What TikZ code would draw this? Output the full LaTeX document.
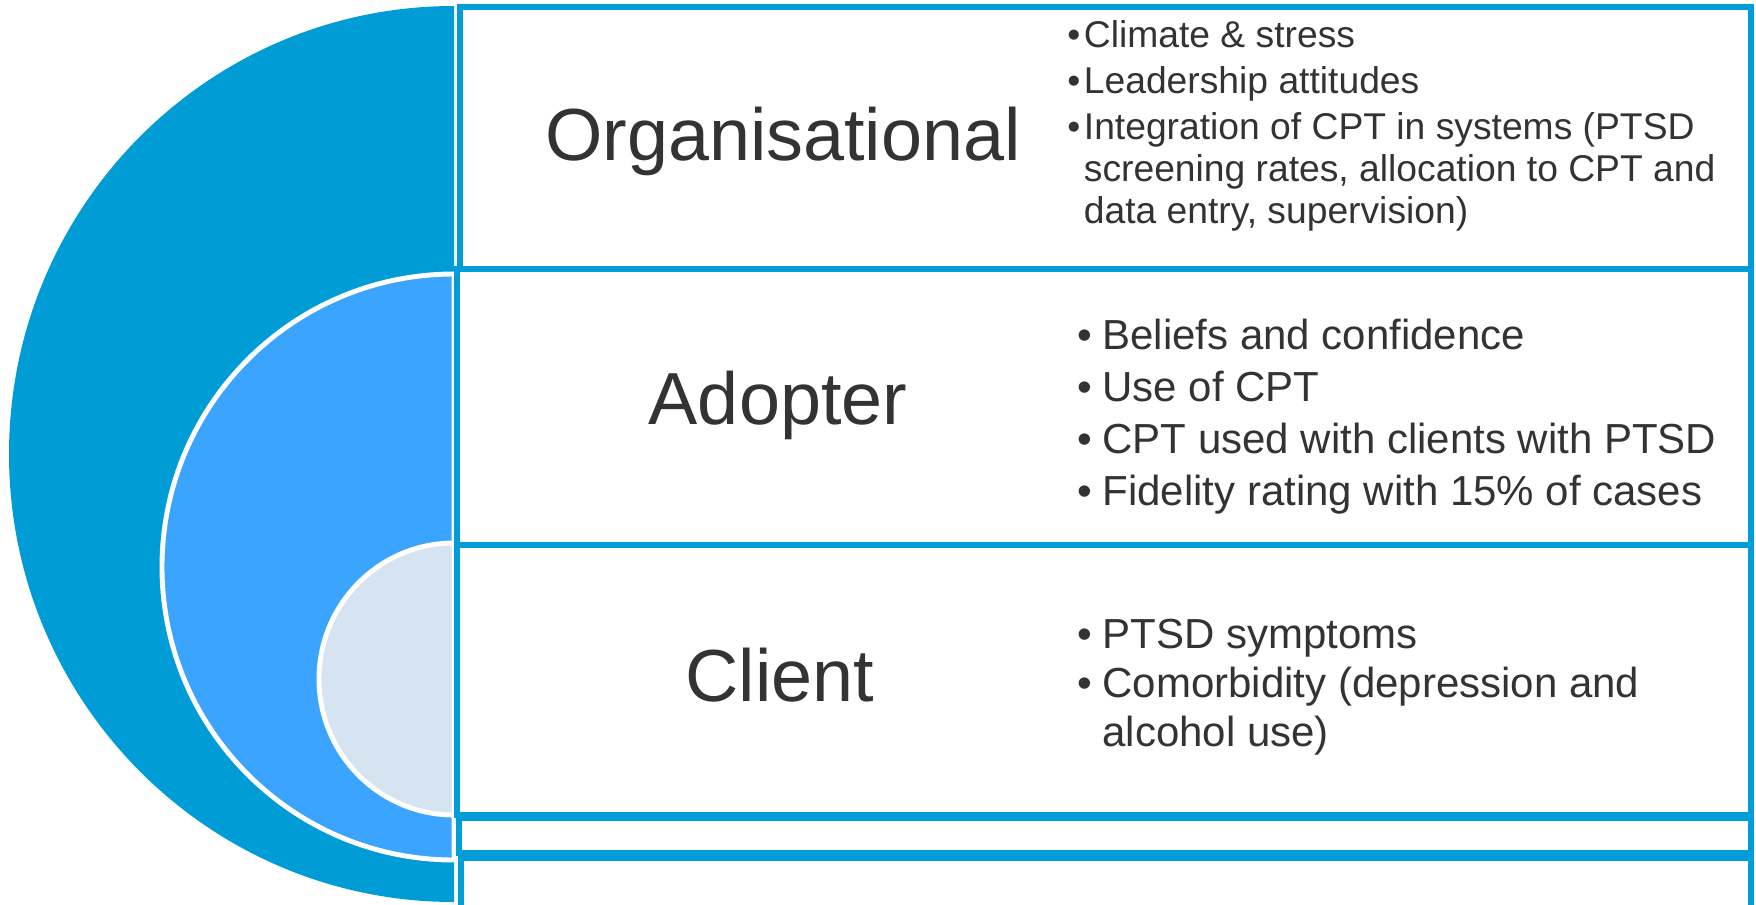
\documentclass[tikz,border=0pt]{standalone}
\usepackage{fontspec}
\setmainfont{Liberation Sans}
\usepackage{tikz}
\usetikzlibrary{positioning}
\definecolor{ink}{HTML}{333333}
\definecolor{bandblue}{HTML}{009DD9}
\definecolor{outerblue}{HTML}{009CD6}
\definecolor{midblue}{HTML}{3BA4FF}
\definecolor{coreblue}{HTML}{D6E4F2}

\begin{document}
\begin{tikzpicture}[x=0.02cm, y=-0.02cm,
      band/.style={draw=bandblue, line width=2.9pt},
      title/.style={ink, inner sep=0pt, anchor=base, font=\fontsize{42}{50}\selectfont},
      itemlist/.style={ink, inner sep=0pt, anchor=base west}]
         \useasboundingbox (0, 0) rectangle (1756, 904);

         % coords (y runs downwards)
         \coordinate (OTop) at (454, 6);
         \coordinate (MTop) at (454, 274);
         \coordinate (CTop) at (454, 543);

         % nested half discs
         \fill[outerblue] (OTop) arc[start angle=270, end angle=90, x radius=445, y radius=448] -- cycle;
         \draw[midblue, fill, draw=white, line width=2.8pt] (MTop) arc[start angle=270, end angle=90, x radius=292, y radius=293] -- cycle;
         \draw[coreblue, fill, draw=white, line width=2.8pt] (CTop) arc[start angle=270, end angle=90, x radius=135, y radius=136] -- cycle;

         % bands
         \draw[band, fill=white] (460, 7) rectangle (1751, 269);
         \draw[band, fill=white] (457, 269) rectangle (1751, 545);
         \draw[band, fill=white] (457, 545) rectangle (1751, 815);
         \draw[band, fill=white] (459, 818) rectangle (1751, 853);
         \draw[band, fill=white] (461, 858) rectangle (1751, 940);

         % titles
         \node[title] (orgTitle) at (783, 160) {Organisational};
         \node[title] (adoptTitle) at (778, 424) {Adopter};
         \node[title] (clientTitle) at (780, 701) {Client};

         % lists
         \node[itemlist, font=\fontsize{21.2}{23.9}\selectfont] (orgList) at (1067, 47) {%
            \begin{tabular}[t]{@{}l@{\hspace{2pt}}l@{}}
               \textbullet & Climate \& stress\\[2.3pt]
               \textbullet & Leadership attitudes\\[2.3pt]
               \textbullet & Integration of CPT in systems (PTSD\\
                           & screening rates, allocation to CPT and\\
                           & data entry, supervision)
            \end{tabular}};
         \node[itemlist, font=\fontsize{23.9}{29.6}\selectfont] (adoptList) at (1077, 349) {%
            \begin{tabular}[t]{@{}l@{\hspace{6pt}}l@{}}
               \textbullet & Beliefs and confidence\\
               \textbullet & Use of CPT\\
               \textbullet & CPT used with clients with PTSD\\
               \textbullet & Fidelity rating with 15\% of cases
            \end{tabular}};
         \node[itemlist, font=\fontsize{23.9}{27.4}\selectfont] (clientList) at (1077, 648) {%
            \begin{tabular}[t]{@{}l@{\hspace{6pt}}l@{}}
               \textbullet & PTSD symptoms\\[1pt]
               \textbullet & Comorbidity (depression and\\
                           & alcohol use)
            \end{tabular}};
      \end{tikzpicture}
\end{document}
